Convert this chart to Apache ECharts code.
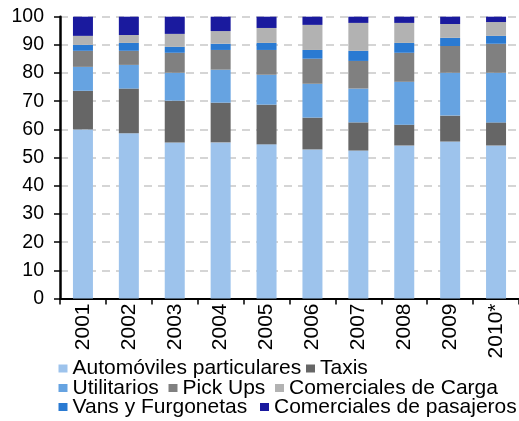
<!DOCTYPE html>
<html><head><meta charset="utf-8">
<script src="https://cdn.jsdelivr.net/npm/echarts@6/dist/echarts.min.js"></script>
<style>html,body{margin:0;padding:0;background:#fff}#c{width:519px;height:421px}</style>
</head><body><div id="c"></div>
<script>
const categories = ['2001','2002','2003','2004','2005','2006','2007','2008','2009','2010*'];
const particulares = [60.0,58.6,55.4,55.4,54.7,52.9,52.5,54.3,55.7,54.3];
const taxis        = [13.7,15.9,14.8,14.1,14.1,11.3,10.0,7.4,9.2,8.2];
const utilitarios  = [8.5,8.4,9.9,11.7,10.6,12.0,12.0,15.2,15.2,17.6];
const pickups      = [5.7,5.0,7.1,7.0,8.8,8.9,9.8,10.3,9.5,10.3];
const vans         = [2.1,2.8,2.1,2.2,2.5,3.1,3.6,3.5,2.9,2.8];
const carga        = [3.2,2.8,4.6,4.5,5.3,8.9,9.9,7.1,4.9,4.9];
const pasajeros    = [6.8,6.5,6.1,5.1,4.0,2.9,2.2,2.2,2.6,1.9];
const yTicks = [0,10,20,30,40,50,60,70,80,90,100];

const names = ['Automóviles particulares','Taxis','Utilitarios','Pick Ups','Vans y Furgonetas','Comerciales de Carga','Comerciales de pasajeros'];
const colors = ['#9DC3EC','#666666','#66A3E1','#808080','#2A7AD2','#B2B2B2','#1A1A9E'];
const datas = [particulares,taxis,utilitarios,pickups,vans,carga,pasajeros];

const chart = echarts.init(document.getElementById('c'));
const font = "'Liberation Sans', Arial, sans-serif";
// legend items: [name, text left x, row center y]
const legendPos = [
  ['Automóviles particulares', 72.5, 368.5],
  ['Taxis', 320, 368.5],
  ['Utilitarios', 72.5, 388],
  ['Pick Ups', 182.5, 388],
  ['Comerciales de Carga', 289, 388],
  ['Vans y Furgonetas', 72.5, 407],
  ['Comerciales de pasajeros', 274, 407]
];
const legends = legendPos.map(p => ({
  data: [p[0]], left: p[1] - 14, top: p[2] - 10.5, padding: 0,
  itemWidth: 9, itemHeight: 8, icon: 'rect', selectedMode: false,
  textStyle: {fontFamily: font, fontSize: 21, color: '#000', lineHeight: 21}
}));
chart.setOption({
  animation: false,
  grid: {left: 60, top: 16.7, width: 464, height: 281.8, containLabel: false},
  legend: legends,
  xAxis: {
    type: 'category', data: categories,
    axisLine: {lineStyle: {color: '#000', width: 2}},
    axisTick: {show: true, length: 6, lineStyle: {color: '#000', width: 1.5}},
    axisLabel: {rotate: 90, fontFamily: font, fontSize: 21, color: '#000', margin: 5}
  },
  yAxis: {
    type: 'value', min: 0, max: 100, interval: 10,
    axisLine: {show: true, lineStyle: {color: '#000', width: 2.5}},
    axisTick: {show: true, length: 6, lineStyle: {color: '#000', width: 1.5}},
    axisLabel: {fontFamily: font, fontSize: 19.5, color: '#000', margin: 16,
      formatter: v => yTicks.includes(v) ? String(v) : ''},
    splitLine: {show: true, lineStyle: {color: '#C8C8C8', width: 1.5, type: [8,6]}}
  },
  series: names.map((n,i) => ({
    name: n, type: 'bar', stack: 'total', data: datas[i], barWidth: 20,
    itemStyle: {color: colors[i]}
  }))
});
</script></body></html>
